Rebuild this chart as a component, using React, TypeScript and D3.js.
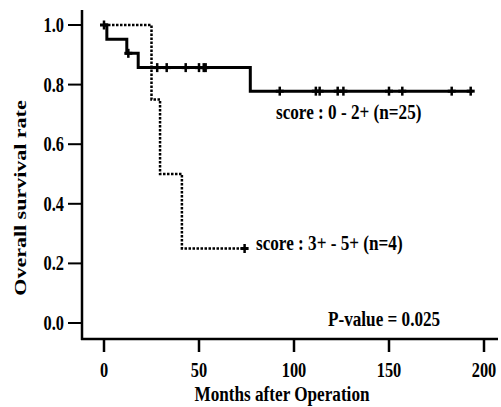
import React, { useEffect, useRef } from "react";
import * as d3 from "d3";

// score 0 - 2+ (n=25): step times (months) and survival rate
const lowTimes = [0, 1.5, 12, 18, 77, 194];
const lowSurv = [1.0, 0.952, 0.905, 0.857, 0.778, 0.778];
const lowCensor = [0, 12.8, 28, 33, 43, 50, 52.5, 53.5, 92.5, 111.5, 113.5, 123, 126, 150, 157, 183, 193];

// score 3+ - 5+ (n=4)
const highTimes = [0, 25, 29.5, 41, 74];
const highSurv = [1.0, 0.75, 0.5, 0.25, 0.25];
const highCensor = [74];

const xTicks = [0, 50, 100, 150, 200];
const yTicks = [0, 0.2, 0.4, 0.6, 0.8, 1.0];

const FONT = "'Liberation Serif', 'Times New Roman', serif";
const SQ = 0.78; // horizontal squeeze of the lettering

function survAt(times: number[], surv: number[], t: number) {
  let v = surv[0];
  times.forEach((tt, i) => {
    if (tt <= t) v = surv[i];
  });
  return v;
}

export default function App() {
  const ref = useRef<SVGSVGElement>(null);

  useEffect(() => {
    const svg = d3.select(ref.current);
    svg.selectAll("*").remove();

    const x = d3.scaleLinear().domain([0, 200]).range([104, 484]);
    const y = d3.scaleLinear().domain([0, 1]).range([323, 25]);

    const text = (tx: number, ty: number, s: string, size: number, anchor: string, rot = false) => {
      svg.append("g")
        .attr("transform", `translate(${tx},${ty}) scale(${SQ},1)` + (rot ? " rotate(-90)" : ""))
        .append("text")
        .attr("text-anchor", anchor)
        .attr("font-family", FONT)
        .attr("font-weight", "bold")
        .attr("font-size", size)
        .attr("fill", "#000")
        .text(s);
    };

    // axes
    svg.append("line").attr("x1", 82).attr("x2", 82).attr("y1", 10).attr("y2", 340)
      .attr("stroke", "#000").attr("stroke-width", 2.5);
    svg.append("line").attr("x1", 81).attr("x2", 498).attr("y1", 339).attr("y2", 339)
      .attr("stroke", "#000").attr("stroke-width", 2.5);

    xTicks.forEach(t => {
      svg.append("line").attr("x1", x(t)).attr("x2", x(t)).attr("y1", 339).attr("y2", 352)
        .attr("stroke", "#000").attr("stroke-width", 2.5);
      text(x(t), 377, String(t), 21, "middle");
    });
    yTicks.forEach(t => {
      svg.append("line").attr("x1", 68).attr("x2", 82).attr("y1", y(t)).attr("y2", y(t))
        .attr("stroke", "#000").attr("stroke-width", 2);
      text(64, y(t) + 7, t.toFixed(1), 21, "end");
    });

    text(282, 401, "Months after Operation", 22, "middle");
    text(26, 198, "Overall survival rate", 22, "middle", true);

    // survival curves
    const line = d3.line<[number, number]>()
      .x(d => x(d[0]))
      .y(d => y(d[1]))
      .curve(d3.curveStepAfter);

    svg.append("path")
      .attr("d", line(highTimes.map((t, i) => [t, highSurv[i]] as [number, number])))
      .attr("fill", "none").attr("stroke", "#000").attr("stroke-width", 2.5)
      .attr("stroke-dasharray", "2.5,1.5");

    svg.append("path")
      .attr("d", line(lowTimes.map((t, i) => [t, lowSurv[i]] as [number, number])))
      .attr("fill", "none").attr("stroke", "#000").attr("stroke-width", 3);

    // censor marks
    const plus = (t: number, v: number) => {
      svg.append("line").attr("x1", x(t)).attr("x2", x(t)).attr("y1", y(v) - 4.5).attr("y2", y(v) + 4.5)
        .attr("stroke", "#000").attr("stroke-width", 2.5);
      svg.append("line").attr("x1", x(t) - 4).attr("x2", x(t) + 4).attr("y1", y(v)).attr("y2", y(v))
        .attr("stroke", "#000").attr("stroke-width", 3);
    };
    lowCensor.forEach(t => plus(t, survAt(lowTimes, lowSurv, t)));
    highCensor.forEach(t => plus(t, survAt(highTimes, highSurv, t)));

    text(276, 119, "score : 0 - 2+ (n=25)", 22, "start");
    text(256, 250, "score : 3+ - 5+ (n=4)", 22, "start");
    text(328, 326, "P-value = 0.025", 22, "start");
  }, []);

  return (
    <svg
      ref={ref}
      width={501}
      height={407}
      style={{ position: "absolute", left: 0, top: 0, background: "#fff" }}
    />
  );
}
